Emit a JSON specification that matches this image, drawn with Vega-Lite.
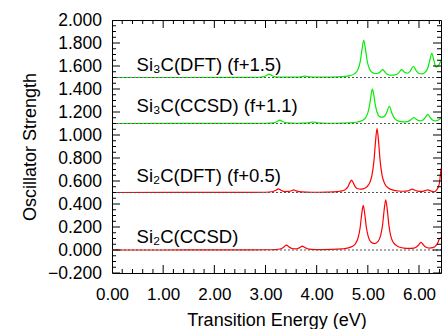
{
  "$schema": "https://vega.github.io/schema/vega-lite/v6.json",
  "width": 329,
  "height": 253,
  "autosize": {"type": "none"},
  "padding": {"left": 112, "top": 20, "right": 2, "bottom": 56},
  "config": {
    "font": "Liberation Sans",
    "view": {"stroke": "#000", "strokeWidth": 1}
  },
  "datasets": {
    "si2c": [
      {"series": "Si2C(CCSD)", "E": 0, "f": 0},
      {"series": "Si2C(CCSD)", "E": 1, "f": 0.0002},
      {"series": "Si2C(CCSD)", "E": 2, "f": 0.0004},
      {"series": "Si2C(CCSD)", "E": 2.5, "f": 0.001},
      {"series": "Si2C(CCSD)", "E": 3.0, "f": 0.002},
      {"series": "Si2C(CCSD)", "E": 3.2, "f": 0.004},
      {"series": "Si2C(CCSD)", "E": 3.3, "f": 0.011},
      {"series": "Si2C(CCSD)", "E": 3.35, "f": 0.022},
      {"series": "Si2C(CCSD)", "E": 3.41, "f": 0.042},
      {"series": "Si2C(CCSD)", "E": 3.47, "f": 0.023},
      {"series": "Si2C(CCSD)", "E": 3.52, "f": 0.013},
      {"series": "Si2C(CCSD)", "E": 3.58, "f": 0.010},
      {"series": "Si2C(CCSD)", "E": 3.64, "f": 0.015},
      {"series": "Si2C(CCSD)", "E": 3.68, "f": 0.024},
      {"series": "Si2C(CCSD)", "E": 3.72, "f": 0.033},
      {"series": "Si2C(CCSD)", "E": 3.76, "f": 0.024},
      {"series": "Si2C(CCSD)", "E": 3.82, "f": 0.011},
      {"series": "Si2C(CCSD)", "E": 3.9, "f": 0.006},
      {"series": "Si2C(CCSD)", "E": 4.1, "f": 0.004},
      {"series": "Si2C(CCSD)", "E": 4.3, "f": 0.005},
      {"series": "Si2C(CCSD)", "E": 4.5, "f": 0.010},
      {"series": "Si2C(CCSD)", "E": 4.6, "f": 0.016},
      {"series": "Si2C(CCSD)", "E": 4.7, "f": 0.032},
      {"series": "Si2C(CCSD)", "E": 4.76, "f": 0.057},
      {"series": "Si2C(CCSD)", "E": 4.81, "f": 0.106},
      {"series": "Si2C(CCSD)", "E": 4.85, "f": 0.196},
      {"series": "Si2C(CCSD)", "E": 4.88, "f": 0.311},
      {"series": "Si2C(CCSD)", "E": 4.91, "f": 0.388},
      {"series": "Si2C(CCSD)", "E": 4.94, "f": 0.313},
      {"series": "Si2C(CCSD)", "E": 4.97, "f": 0.200},
      {"series": "Si2C(CCSD)", "E": 5.01, "f": 0.114},
      {"series": "Si2C(CCSD)", "E": 5.06, "f": 0.070},
      {"series": "Si2C(CCSD)", "E": 5.13, "f": 0.056},
      {"series": "Si2C(CCSD)", "E": 5.2, "f": 0.075},
      {"series": "Si2C(CCSD)", "E": 5.25, "f": 0.125},
      {"series": "Si2C(CCSD)", "E": 5.29, "f": 0.224},
      {"series": "Si2C(CCSD)", "E": 5.32, "f": 0.352},
      {"series": "Si2C(CCSD)", "E": 5.35, "f": 0.437},
      {"series": "Si2C(CCSD)", "E": 5.38, "f": 0.351},
      {"series": "Si2C(CCSD)", "E": 5.41, "f": 0.221},
      {"series": "Si2C(CCSD)", "E": 5.45, "f": 0.119},
      {"series": "Si2C(CCSD)", "E": 5.5, "f": 0.064},
      {"series": "Si2C(CCSD)", "E": 5.6, "f": 0.028},
      {"series": "Si2C(CCSD)", "E": 5.7, "f": 0.017},
      {"series": "Si2C(CCSD)", "E": 5.8, "f": 0.014},
      {"series": "Si2C(CCSD)", "E": 5.9, "f": 0.017},
      {"series": "Si2C(CCSD)", "E": 5.95, "f": 0.026},
      {"series": "Si2C(CCSD)", "E": 5.99, "f": 0.042},
      {"series": "Si2C(CCSD)", "E": 6.04, "f": 0.067},
      {"series": "Si2C(CCSD)", "E": 6.08, "f": 0.048},
      {"series": "Si2C(CCSD)", "E": 6.13, "f": 0.026},
      {"series": "Si2C(CCSD)", "E": 6.2, "f": 0.017},
      {"series": "Si2C(CCSD)", "E": 6.27, "f": 0.020},
      {"series": "Si2C(CCSD)", "E": 6.33, "f": 0.037},
      {"series": "Si2C(CCSD)", "E": 6.37, "f": 0.066},
      {"series": "Si2C(CCSD)", "E": 6.4, "f": 0.098},
      {"series": "Si2C(CCSD)", "E": 6.43, "f": 0.105},

      {"series": "Si2C(DFT)", "E": 0, "f": 0.5},
      {"series": "Si2C(DFT)", "E": 2.5, "f": 0.501},
      {"series": "Si2C(DFT)", "E": 3.0, "f": 0.502},
      {"series": "Si2C(DFT)", "E": 3.15, "f": 0.509},
      {"series": "Si2C(DFT)", "E": 3.2, "f": 0.519},
      {"series": "Si2C(DFT)", "E": 3.25, "f": 0.532},
      {"series": "Si2C(DFT)", "E": 3.3, "f": 0.520},
      {"series": "Si2C(DFT)", "E": 3.38, "f": 0.508},
      {"series": "Si2C(DFT)", "E": 3.45, "f": 0.509},
      {"series": "Si2C(DFT)", "E": 3.5, "f": 0.514},
      {"series": "Si2C(DFT)", "E": 3.55, "f": 0.522},
      {"series": "Si2C(DFT)", "E": 3.6, "f": 0.514},
      {"series": "Si2C(DFT)", "E": 3.7, "f": 0.505},
      {"series": "Si2C(DFT)", "E": 3.9, "f": 0.502},
      {"series": "Si2C(DFT)", "E": 4.2, "f": 0.504},
      {"series": "Si2C(DFT)", "E": 4.4, "f": 0.508},
      {"series": "Si2C(DFT)", "E": 4.5, "f": 0.514},
      {"series": "Si2C(DFT)", "E": 4.56, "f": 0.525},
      {"series": "Si2C(DFT)", "E": 4.61, "f": 0.549},
      {"series": "Si2C(DFT)", "E": 4.65, "f": 0.587},
      {"series": "Si2C(DFT)", "E": 4.68, "f": 0.608},
      {"series": "Si2C(DFT)", "E": 4.71, "f": 0.589},
      {"series": "Si2C(DFT)", "E": 4.75, "f": 0.553},
      {"series": "Si2C(DFT)", "E": 4.8, "f": 0.533},
      {"series": "Si2C(DFT)", "E": 4.86, "f": 0.529},
      {"series": "Si2C(DFT)", "E": 4.92, "f": 0.534},
      {"series": "Si2C(DFT)", "E": 4.98, "f": 0.549},
      {"series": "Si2C(DFT)", "E": 5.04, "f": 0.588},
      {"series": "Si2C(DFT)", "E": 5.08, "f": 0.648},
      {"series": "Si2C(DFT)", "E": 5.12, "f": 0.777},
      {"series": "Si2C(DFT)", "E": 5.15, "f": 0.942},
      {"series": "Si2C(DFT)", "E": 5.18, "f": 1.055},
      {"series": "Si2C(DFT)", "E": 5.21, "f": 0.941},
      {"series": "Si2C(DFT)", "E": 5.24, "f": 0.777},
      {"series": "Si2C(DFT)", "E": 5.28, "f": 0.647},
      {"series": "Si2C(DFT)", "E": 5.33, "f": 0.577},
      {"series": "Si2C(DFT)", "E": 5.4, "f": 0.539},
      {"series": "Si2C(DFT)", "E": 5.5, "f": 0.520},
      {"series": "Si2C(DFT)", "E": 5.6, "f": 0.513},
      {"series": "Si2C(DFT)", "E": 5.7, "f": 0.511},
      {"series": "Si2C(DFT)", "E": 5.78, "f": 0.514},
      {"series": "Si2C(DFT)", "E": 5.83, "f": 0.523},
      {"series": "Si2C(DFT)", "E": 5.87, "f": 0.530},
      {"series": "Si2C(DFT)", "E": 5.91, "f": 0.522},
      {"series": "Si2C(DFT)", "E": 5.97, "f": 0.512},
      {"series": "Si2C(DFT)", "E": 6.05, "f": 0.509},
      {"series": "Si2C(DFT)", "E": 6.12, "f": 0.516},
      {"series": "Si2C(DFT)", "E": 6.17, "f": 0.523},
      {"series": "Si2C(DFT)", "E": 6.22, "f": 0.515},
      {"series": "Si2C(DFT)", "E": 6.3, "f": 0.506},
      {"series": "Si2C(DFT)", "E": 6.35, "f": 0.525},
      {"series": "Si2C(DFT)", "E": 6.38, "f": 0.550},
      {"series": "Si2C(DFT)", "E": 6.4, "f": 0.585},
      {"series": "Si2C(DFT)", "E": 6.42, "f": 0.660},
      {"series": "Si2C(DFT)", "E": 6.43, "f": 0.710}
    ],
    "si3c": [
      {"series": "Si3C(CCSD)", "E": 0, "f": 1.1},
      {"series": "Si3C(CCSD)", "E": 2.5, "f": 1.101},
      {"series": "Si3C(CCSD)", "E": 3.0, "f": 1.102},
      {"series": "Si3C(CCSD)", "E": 3.15, "f": 1.106},
      {"series": "Si3C(CCSD)", "E": 3.22, "f": 1.115},
      {"series": "Si3C(CCSD)", "E": 3.28, "f": 1.130},
      {"series": "Si3C(CCSD)", "E": 3.34, "f": 1.115},
      {"series": "Si3C(CCSD)", "E": 3.42, "f": 1.105},
      {"series": "Si3C(CCSD)", "E": 3.6, "f": 1.102},
      {"series": "Si3C(CCSD)", "E": 3.85, "f": 1.106},
      {"series": "Si3C(CCSD)", "E": 3.93, "f": 1.113},
      {"series": "Si3C(CCSD)", "E": 4.01, "f": 1.106},
      {"series": "Si3C(CCSD)", "E": 4.2, "f": 1.102},
      {"series": "Si3C(CCSD)", "E": 4.5, "f": 1.104},
      {"series": "Si3C(CCSD)", "E": 4.7, "f": 1.108},
      {"series": "Si3C(CCSD)", "E": 4.8, "f": 1.113},
      {"series": "Si3C(CCSD)", "E": 4.9, "f": 1.128},
      {"series": "Si3C(CCSD)", "E": 4.96, "f": 1.153},
      {"series": "Si3C(CCSD)", "E": 5.0, "f": 1.192},
      {"series": "Si3C(CCSD)", "E": 5.04, "f": 1.275},
      {"series": "Si3C(CCSD)", "E": 5.07, "f": 1.365},
      {"series": "Si3C(CCSD)", "E": 5.09, "f": 1.400},
      {"series": "Si3C(CCSD)", "E": 5.11, "f": 1.366},
      {"series": "Si3C(CCSD)", "E": 5.14, "f": 1.277},
      {"series": "Si3C(CCSD)", "E": 5.18, "f": 1.198},
      {"series": "Si3C(CCSD)", "E": 5.23, "f": 1.160},
      {"series": "Si3C(CCSD)", "E": 5.28, "f": 1.155},
      {"series": "Si3C(CCSD)", "E": 5.33, "f": 1.165},
      {"series": "Si3C(CCSD)", "E": 5.37, "f": 1.197},
      {"series": "Si3C(CCSD)", "E": 5.42, "f": 1.250},
      {"series": "Si3C(CCSD)", "E": 5.47, "f": 1.190},
      {"series": "Si3C(CCSD)", "E": 5.52, "f": 1.144},
      {"series": "Si3C(CCSD)", "E": 5.6, "f": 1.120},
      {"series": "Si3C(CCSD)", "E": 5.7, "f": 1.114},
      {"series": "Si3C(CCSD)", "E": 5.78, "f": 1.117},
      {"series": "Si3C(CCSD)", "E": 5.85, "f": 1.134},
      {"series": "Si3C(CCSD)", "E": 5.9, "f": 1.152},
      {"series": "Si3C(CCSD)", "E": 5.95, "f": 1.135},
      {"series": "Si3C(CCSD)", "E": 6.02, "f": 1.122},
      {"series": "Si3C(CCSD)", "E": 6.08, "f": 1.131},
      {"series": "Si3C(CCSD)", "E": 6.13, "f": 1.157},
      {"series": "Si3C(CCSD)", "E": 6.17, "f": 1.180},
      {"series": "Si3C(CCSD)", "E": 6.21, "f": 1.157},
      {"series": "Si3C(CCSD)", "E": 6.27, "f": 1.128},
      {"series": "Si3C(CCSD)", "E": 6.33, "f": 1.122},
      {"series": "Si3C(CCSD)", "E": 6.38, "f": 1.131},
      {"series": "Si3C(CCSD)", "E": 6.43, "f": 1.145},

      {"series": "Si3C(DFT)", "E": 0, "f": 1.5},
      {"series": "Si3C(DFT)", "E": 2.5, "f": 1.5005},
      {"series": "Si3C(DFT)", "E": 2.85, "f": 1.502},
      {"series": "Si3C(DFT)", "E": 2.97, "f": 1.508},
      {"series": "Si3C(DFT)", "E": 3.02, "f": 1.518},
      {"series": "Si3C(DFT)", "E": 3.07, "f": 1.530},
      {"series": "Si3C(DFT)", "E": 3.12, "f": 1.518},
      {"series": "Si3C(DFT)", "E": 3.17, "f": 1.508},
      {"series": "Si3C(DFT)", "E": 3.3, "f": 1.5025},
      {"series": "Si3C(DFT)", "E": 3.6, "f": 1.503},
      {"series": "Si3C(DFT)", "E": 3.72, "f": 1.508},
      {"series": "Si3C(DFT)", "E": 3.77, "f": 1.513},
      {"series": "Si3C(DFT)", "E": 3.82, "f": 1.508},
      {"series": "Si3C(DFT)", "E": 4.0, "f": 1.5025},
      {"series": "Si3C(DFT)", "E": 4.3, "f": 1.503},
      {"series": "Si3C(DFT)", "E": 4.5, "f": 1.507},
      {"series": "Si3C(DFT)", "E": 4.65, "f": 1.516},
      {"series": "Si3C(DFT)", "E": 4.75, "f": 1.536},
      {"series": "Si3C(DFT)", "E": 4.81, "f": 1.573},
      {"series": "Si3C(DFT)", "E": 4.85, "f": 1.635},
      {"series": "Si3C(DFT)", "E": 4.89, "f": 1.756},
      {"series": "Si3C(DFT)", "E": 4.92, "f": 1.824},
      {"series": "Si3C(DFT)", "E": 4.95, "f": 1.757},
      {"series": "Si3C(DFT)", "E": 4.99, "f": 1.637},
      {"series": "Si3C(DFT)", "E": 5.03, "f": 1.576},
      {"series": "Si3C(DFT)", "E": 5.08, "f": 1.546},
      {"series": "Si3C(DFT)", "E": 5.14, "f": 1.535},
      {"series": "Si3C(DFT)", "E": 5.2, "f": 1.537},
      {"series": "Si3C(DFT)", "E": 5.25, "f": 1.552},
      {"series": "Si3C(DFT)", "E": 5.29, "f": 1.568},
      {"series": "Si3C(DFT)", "E": 5.33, "f": 1.550},
      {"series": "Si3C(DFT)", "E": 5.38, "f": 1.529},
      {"series": "Si3C(DFT)", "E": 5.45, "f": 1.520},
      {"series": "Si3C(DFT)", "E": 5.53, "f": 1.522},
      {"series": "Si3C(DFT)", "E": 5.6, "f": 1.538},
      {"series": "Si3C(DFT)", "E": 5.66, "f": 1.568},
      {"series": "Si3C(DFT)", "E": 5.71, "f": 1.548},
      {"series": "Si3C(DFT)", "E": 5.77, "f": 1.537},
      {"series": "Si3C(DFT)", "E": 5.83, "f": 1.556},
      {"series": "Si3C(DFT)", "E": 5.89, "f": 1.598},
      {"series": "Si3C(DFT)", "E": 5.94, "f": 1.563},
      {"series": "Si3C(DFT)", "E": 6.0, "f": 1.535},
      {"series": "Si3C(DFT)", "E": 6.06, "f": 1.532},
      {"series": "Si3C(DFT)", "E": 6.12, "f": 1.545},
      {"series": "Si3C(DFT)", "E": 6.17, "f": 1.580},
      {"series": "Si3C(DFT)", "E": 6.21, "f": 1.647},
      {"series": "Si3C(DFT)", "E": 6.25, "f": 1.711},
      {"series": "Si3C(DFT)", "E": 6.29, "f": 1.650},
      {"series": "Si3C(DFT)", "E": 6.33, "f": 1.592},
      {"series": "Si3C(DFT)", "E": 6.35, "f": 1.593},
      {"series": "Si3C(DFT)", "E": 6.39, "f": 1.610},
      {"series": "Si3C(DFT)", "E": 6.43, "f": 1.645}
    ],
    "baselines": [
      {"base": 0, "start": 0, "end": 6.43},
      {"base": 0.5, "start": 0, "end": 6.43},
      {"base": 1.1, "start": 0, "end": 6.43},
      {"base": 1.5, "start": 0, "end": 6.43}
    ],
    "labels": [
      {"label": "Si₃C(DFT) (f+1.5)", "E": 0.48, "f": 1.559},
      {"label": "Si₃C(CCSD) (f+1.1)", "E": 0.48, "f": 1.203},
      {"label": "Si₂C(DFT) (f+0.5)", "E": 0.48, "f": 0.594},
      {"label": "Si₂C(CCSD)", "E": 0.48, "f": 0.063}
    ],
    "xmajor": [{"v": 0}, {"v": 1}, {"v": 2}, {"v": 3}, {"v": 4}, {"v": 5}, {"v": 6}],
    "xminor": [{"v": 0.2}, {"v": 0.4}, {"v": 0.6}, {"v": 0.8}, {"v": 1.2}, {"v": 1.4}, {"v": 1.6}, {"v": 1.8}, {"v": 2.2}, {"v": 2.4}, {"v": 2.6}, {"v": 2.8}, {"v": 3.2}, {"v": 3.4}, {"v": 3.6}, {"v": 3.8}, {"v": 4.2}, {"v": 4.4}, {"v": 4.6}, {"v": 4.8}, {"v": 5.2}, {"v": 5.4}, {"v": 5.6}, {"v": 5.8}, {"v": 6.2}, {"v": 6.4}],
    "ymajor": [{"v": -0.2}, {"v": 0}, {"v": 0.2}, {"v": 0.4}, {"v": 0.6}, {"v": 0.8}, {"v": 1.0}, {"v": 1.2}, {"v": 1.4}, {"v": 1.6}, {"v": 1.8}, {"v": 2.0}],
    "yminor": [{"v": -0.15}, {"v": -0.1}, {"v": -0.05}, {"v": 0.05}, {"v": 0.1}, {"v": 0.15}, {"v": 0.25}, {"v": 0.3}, {"v": 0.35}, {"v": 0.45}, {"v": 0.5}, {"v": 0.55}, {"v": 0.65}, {"v": 0.7}, {"v": 0.75}, {"v": 0.85}, {"v": 0.9}, {"v": 0.95}, {"v": 1.05}, {"v": 1.1}, {"v": 1.15}, {"v": 1.25}, {"v": 1.3}, {"v": 1.35}, {"v": 1.45}, {"v": 1.5}, {"v": 1.55}, {"v": 1.65}, {"v": 1.7}, {"v": 1.75}, {"v": 1.85}, {"v": 1.9}, {"v": 1.95}]
  },
  "layer": [
    {
      "data": {"name": "si2c"},
      "mark": {"type": "line", "color": "#ff0000", "strokeWidth": 1.2, "interpolate": "monotone"},
      "encoding": {
        "x": {"field": "E", "type": "quantitative", "scale": {"domain": [0, 6.43], "nice": false, "zero": false},
          "axis": {"orient": "bottom", "values": [0, 1, 2, 3, 4, 5, 6], "format": ".2f", "ticks": false,
            "domain": false, "grid": false, "labelFlush": false, "labelOverlap": false, "labelBound": false,
            "labelPadding": 13, "labelFontSize": 17, "labelColor": "#000", "labelFont": "Liberation Sans",
            "title": "Transition Energy (eV)", "titleFontSize": 18, "titleFontWeight": "normal", "titleColor": "#000", "titleFont": "Liberation Sans", "titlePadding": 9}},
        "y": {"field": "f", "type": "quantitative", "scale": {"domain": [-0.2, 2.0], "nice": false, "zero": false},
          "axis": {"orient": "left", "values": [-0.2, 0, 0.2, 0.4, 0.6, 0.8, 1.0, 1.2, 1.4, 1.6, 1.8, 2.0], "format": ".3f", "ticks": false,
            "domain": false, "grid": false, "labelFlush": false, "labelOverlap": false, "labelBound": false,
            "labelPadding": 10.5, "labelFontSize": 17.5, "labelColor": "#000", "labelFont": "Liberation Sans",
            "title": "Oscillator Strength", "titleFontSize": 18, "titleFontWeight": "normal", "titleColor": "#000", "titleFont": "Liberation Sans", "titlePadding": 8}},
        "detail": {"field": "series"}
      }
    },
    {
      "data": {"name": "si3c"},
      "mark": {"type": "line", "color": "#00ee00", "strokeWidth": 1.2, "interpolate": "monotone"},
      "encoding": {
        "x": {"field": "E", "type": "quantitative", "scale": {"domain": [0, 6.43], "nice": false, "zero": false}, "axis": null},
        "y": {"field": "f", "type": "quantitative", "scale": {"domain": [-0.2, 2.0], "nice": false, "zero": false}, "axis": null},
        "detail": {"field": "series"}
      }
    },
    {
      "data": {"name": "baselines"},
      "mark": {"type": "rule", "color": "#555555", "strokeWidth": 1, "strokeDash": [2, 2]},
      "encoding": {
        "x": {"field": "start", "type": "quantitative", "scale": {"domain": [0, 6.43], "nice": false, "zero": false}, "axis": null},
        "x2": {"field": "end"},
        "y": {"field": "base", "type": "quantitative", "scale": {"domain": [-0.2, 2.0], "nice": false, "zero": false}, "axis": null}
      }
    },
    {
      "data": {"name": "labels"},
      "mark": {"type": "text", "align": "left", "baseline": "alphabetic", "fontSize": 18.5, "color": "#000", "font": "Liberation Sans"},
      "encoding": {
        "x": {"field": "E", "type": "quantitative", "scale": {"domain": [0, 6.43], "nice": false, "zero": false}, "axis": null},
        "y": {"field": "f", "type": "quantitative", "scale": {"domain": [-0.2, 2.0], "nice": false, "zero": false}, "axis": null},
        "text": {"field": "label"}
      }
    },
    {
      "data": {"name": "xmajor"},
      "mark": {"type": "tick", "orient": "vertical", "color": "#000", "thickness": 1, "size": 16, "clip": true, "opacity": 1},
      "encoding": {
        "x": {"field": "v", "type": "quantitative", "scale": {"domain": [0, 6.43], "nice": false, "zero": false}, "axis": null},
        "y": {"datum": -0.2, "type": "quantitative", "scale": {"domain": [-0.2, 2.0], "nice": false, "zero": false}, "axis": null}
      }
    },
    {
      "data": {"name": "xmajor"},
      "mark": {"type": "tick", "orient": "vertical", "color": "#000", "thickness": 1, "size": 16, "clip": true, "opacity": 1},
      "encoding": {
        "x": {"field": "v", "type": "quantitative", "scale": {"domain": [0, 6.43], "nice": false, "zero": false}, "axis": null},
        "y": {"datum": 2.0, "type": "quantitative", "scale": {"domain": [-0.2, 2.0], "nice": false, "zero": false}, "axis": null}
      }
    },
    {
      "data": {"name": "xminor"},
      "mark": {"type": "tick", "orient": "vertical", "color": "#000", "thickness": 1, "size": 8, "clip": true, "opacity": 1},
      "encoding": {
        "x": {"field": "v", "type": "quantitative", "scale": {"domain": [0, 6.43], "nice": false, "zero": false}, "axis": null},
        "y": {"datum": -0.2, "type": "quantitative", "scale": {"domain": [-0.2, 2.0], "nice": false, "zero": false}, "axis": null}
      }
    },
    {
      "data": {"name": "xminor"},
      "mark": {"type": "tick", "orient": "vertical", "color": "#000", "thickness": 1, "size": 8, "clip": true, "opacity": 1},
      "encoding": {
        "x": {"field": "v", "type": "quantitative", "scale": {"domain": [0, 6.43], "nice": false, "zero": false}, "axis": null},
        "y": {"datum": 2.0, "type": "quantitative", "scale": {"domain": [-0.2, 2.0], "nice": false, "zero": false}, "axis": null}
      }
    },
    {
      "data": {"name": "ymajor"},
      "mark": {"type": "tick", "orient": "horizontal", "color": "#000", "thickness": 1, "size": 16, "clip": true, "opacity": 1},
      "encoding": {
        "y": {"field": "v", "type": "quantitative", "scale": {"domain": [-0.2, 2.0], "nice": false, "zero": false}, "axis": null},
        "x": {"datum": 0, "type": "quantitative", "scale": {"domain": [0, 6.43], "nice": false, "zero": false}, "axis": null}
      }
    },
    {
      "data": {"name": "ymajor"},
      "mark": {"type": "tick", "orient": "horizontal", "color": "#000", "thickness": 1, "size": 16, "clip": true, "opacity": 1},
      "encoding": {
        "y": {"field": "v", "type": "quantitative", "scale": {"domain": [-0.2, 2.0], "nice": false, "zero": false}, "axis": null},
        "x": {"datum": 6.43, "type": "quantitative", "scale": {"domain": [0, 6.43], "nice": false, "zero": false}, "axis": null}
      }
    },
    {
      "data": {"name": "yminor"},
      "mark": {"type": "tick", "orient": "horizontal", "color": "#000", "thickness": 1, "size": 8, "clip": true, "opacity": 1},
      "encoding": {
        "y": {"field": "v", "type": "quantitative", "scale": {"domain": [-0.2, 2.0], "nice": false, "zero": false}, "axis": null},
        "x": {"datum": 0, "type": "quantitative", "scale": {"domain": [0, 6.43], "nice": false, "zero": false}, "axis": null}
      }
    },
    {
      "data": {"name": "yminor"},
      "mark": {"type": "tick", "orient": "horizontal", "color": "#000", "thickness": 1, "size": 8, "clip": true, "opacity": 1},
      "encoding": {
        "y": {"field": "v", "type": "quantitative", "scale": {"domain": [-0.2, 2.0], "nice": false, "zero": false}, "axis": null},
        "x": {"datum": 6.43, "type": "quantitative", "scale": {"domain": [0, 6.43], "nice": false, "zero": false}, "axis": null}
      }
    }
  ],
  "resolve": {"axis": {"x": "independent", "y": "independent"}}
}
